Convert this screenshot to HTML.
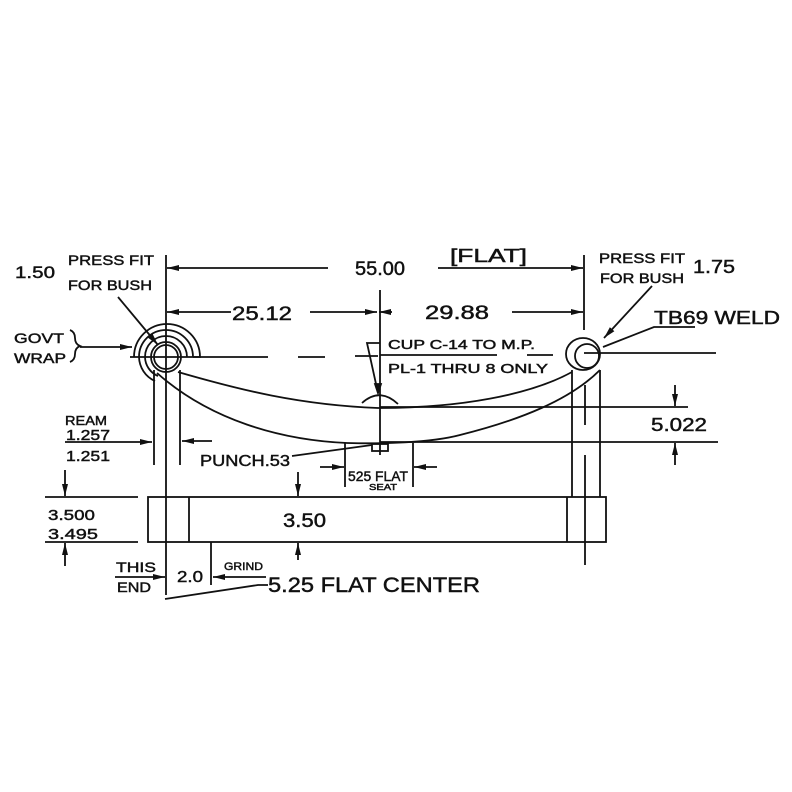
<!DOCTYPE html>
<html><head><meta charset="utf-8"><style>
html,body{margin:0;padding:0;background:#fff}
svg{display:block}
text{font-family:"Liberation Sans",sans-serif;fill:#111;stroke:#111;stroke-width:0.45}
</style></head><body>
<svg width="792" height="792" viewBox="0 0 792 792" xmlns="http://www.w3.org/2000/svg">
<defs>
<marker id="a" markerWidth="12" markerHeight="8" refX="12" refY="4" orient="auto" markerUnits="userSpaceOnUse"><path d="M0,1 L12,4 L0,7 Z" fill="#111"/></marker>
</defs>
<g stroke="#111" stroke-width="1.8" fill="none">
<circle cx="166" cy="357" r="12"/>
<circle cx="166" cy="357" r="15"/>
<path d="M145,357 A21,21 0 0 1 187,357"/>
<path d="M139,357 A27,27 0 0 1 193,357"/>
<path d="M134,357 A33,33 0 0 1 200,357 L193,357"/>
<path d="M145,357 A21,21 0 0 0 158,376"/>
<path d="M139,357 A27,27 0 0 0 155,381"/>
<line x1="166" y1="255" x2="166" y2="595"/>
<line x1="154" y1="370" x2="154" y2="465"/>
<line x1="180" y1="370" x2="180" y2="465"/>
<line x1="328" y1="268" x2="167" y2="268" marker-end="url(#a)"/>
<line x1="438" y1="268" x2="583" y2="268" marker-end="url(#a)"/>
<line x1="231" y1="312" x2="167" y2="312" marker-end="url(#a)"/>
<line x1="310" y1="312" x2="377" y2="312" marker-end="url(#a)"/>
<line x1="512" y1="312" x2="583" y2="312" marker-end="url(#a)"/>
<line x1="392" y1="312" x2="379" y2="312" marker-end="url(#a)"/>
<line x1="380" y1="290" x2="380" y2="455"/>
<line x1="130" y1="357" x2="268" y2="357"/>
<line x1="298" y1="357" x2="325" y2="357"/>
<line x1="355" y1="356" x2="378" y2="356"/>
<line x1="380" y1="355" x2="497" y2="355"/>
<line x1="527" y1="355" x2="553" y2="355"/>
<path d="M380,343 L367,343 L378,393" />
<path d="M378,393 l-3,-9 l6,0 z" fill="#111"/>
<path d="M362,403 Q380,387 398,404"/>
<ellipse cx="583" cy="354" rx="17" ry="16"/>
<circle cx="587" cy="356" r="12"/>
<line x1="584" y1="353" x2="716" y2="353"/>
<line x1="584" y1="255" x2="584" y2="330"/>
<line x1="572" y1="370" x2="572" y2="497"/>
<line x1="600" y1="370" x2="600" y2="497"/>
<line x1="585" y1="385" x2="585" y2="425"/>
<line x1="585" y1="455" x2="585" y2="565"/>
<path d="M178,372 C240,390 300,405 378,408 C460,408 530,395 572,372"/>
<path d="M157,373 C210,420 280,440 347,443 C380,444 430,443 460,435 C520,420 570,400 600,370"/>
<line x1="380" y1="407" x2="688" y2="407"/>
<line x1="380" y1="442" x2="718" y2="442"/>
<line x1="675" y1="385" x2="675" y2="406" marker-end="url(#a)"/>
<line x1="675" y1="465" x2="675" y2="443" marker-end="url(#a)"/>
<line x1="65" y1="442" x2="152" y2="442" marker-end="url(#a)"/>
<line x1="212" y1="441" x2="182" y2="441" marker-end="url(#a)"/>
<path d="M292,456 L372,445"/>
<rect x="372" y="444" width="16" height="7"/>
<line x1="345" y1="443" x2="345" y2="487"/>
<line x1="413" y1="443" x2="413" y2="487"/>
<line x1="320" y1="467" x2="344" y2="467" marker-end="url(#a)"/>
<line x1="437" y1="467" x2="414" y2="467" marker-end="url(#a)"/>
<rect x="148" y="497" width="458" height="45"/>
<line x1="189" y1="497" x2="189" y2="542"/>
<line x1="567" y1="497" x2="567" y2="542"/>
<line x1="45" y1="497" x2="138" y2="497"/>
<line x1="45" y1="542" x2="138" y2="542"/>
<line x1="65" y1="470" x2="65" y2="496" marker-end="url(#a)"/>
<line x1="65" y1="566" x2="65" y2="543" marker-end="url(#a)"/>
<line x1="298" y1="472" x2="298" y2="496" marker-end="url(#a)"/>
<line x1="298" y1="560" x2="298" y2="543" marker-end="url(#a)"/>
<line x1="211" y1="542" x2="211" y2="585"/>
<line x1="115" y1="577" x2="165" y2="577" marker-end="url(#a)"/>
<line x1="266" y1="577" x2="213" y2="577" marker-end="url(#a)"/>
<path d="M268,585 L258,585 L165,599"/>
<line x1="118" y1="297" x2="158" y2="345" marker-end="url(#a)"/>
<path d="M70,330 q5,2 5,8 q0,6 5,8 q-5,2 -5,8 q0,6 -5,8"/>
<line x1="80" y1="347" x2="132" y2="347" marker-end="url(#a)"/>
<line x1="652" y1="286" x2="604" y2="338" marker-end="url(#a)"/>
<path d="M695,327 L654,327 L603,347"/>
</g>
<g font-size="17">
<text x="15" y="278" textLength="40" lengthAdjust="spacingAndGlyphs">1.50</text>
<text x="68" y="265" font-size="14" textLength="86" lengthAdjust="spacingAndGlyphs">PRESS FIT</text>
<text x="68" y="290" font-size="14" textLength="84" lengthAdjust="spacingAndGlyphs">FOR BUSH</text>
<text x="14" y="343" font-size="14" textLength="50" lengthAdjust="spacingAndGlyphs">GOVT</text>
<text x="14" y="363" font-size="14" textLength="52" lengthAdjust="spacingAndGlyphs">WRAP</text>
<text x="355" y="275" font-size="19" textLength="50" lengthAdjust="spacingAndGlyphs">55.00</text>
<text x="450" y="262" font-size="18" textLength="77" lengthAdjust="spacingAndGlyphs">[FLAT]</text>
<text x="232" y="320" font-size="19" textLength="60" lengthAdjust="spacingAndGlyphs">25.12</text>
<text x="425" y="319" font-size="19" textLength="64" lengthAdjust="spacingAndGlyphs">29.88</text>
<text x="599" y="263" font-size="14" textLength="86" lengthAdjust="spacingAndGlyphs">PRESS FIT</text>
<text x="600" y="283" font-size="14" textLength="84" lengthAdjust="spacingAndGlyphs">FOR BUSH</text>
<text x="693" y="273" font-size="18" textLength="42" lengthAdjust="spacingAndGlyphs">1.75</text>
<text x="654" y="324" font-size="18" textLength="126" lengthAdjust="spacingAndGlyphs">TB69 WELD</text>
<text x="388" y="349" font-size="13" textLength="147" lengthAdjust="spacingAndGlyphs">CUP C-14 TO M.P.</text>
<text x="388" y="373" font-size="13" textLength="160" lengthAdjust="spacingAndGlyphs">PL-1 THRU 8 ONLY</text>
<text x="651" y="431" font-size="18" textLength="56" lengthAdjust="spacingAndGlyphs">5.022</text>
<text x="65" y="425" font-size="13" textLength="42" lengthAdjust="spacingAndGlyphs">REAM</text>
<text x="66" y="440" font-size="15" textLength="44" lengthAdjust="spacingAndGlyphs">1.257</text>
<text x="66" y="461" font-size="15" textLength="44" lengthAdjust="spacingAndGlyphs">1.251</text>
<text x="200" y="466" font-size="16" textLength="90" lengthAdjust="spacingAndGlyphs">PUNCH.53</text>
<text x="348" y="481" font-size="14" textLength="60" lengthAdjust="spacingAndGlyphs">525 FLAT</text>
<text x="369" y="490" font-size="8" textLength="28" lengthAdjust="spacingAndGlyphs">SEAT</text>
<text x="48" y="520" font-size="15" textLength="47" lengthAdjust="spacingAndGlyphs">3.500</text>
<text x="48" y="539" font-size="15" textLength="50" lengthAdjust="spacingAndGlyphs">3.495</text>
<text x="283" y="527" font-size="19" textLength="43" lengthAdjust="spacingAndGlyphs">3.50</text>
<text x="116" y="572" font-size="14" textLength="40" lengthAdjust="spacingAndGlyphs">THIS</text>
<text x="117" y="592" font-size="14" textLength="34" lengthAdjust="spacingAndGlyphs">END</text>
<text x="177" y="582" font-size="16" textLength="26" lengthAdjust="spacingAndGlyphs">2.0</text>
<text x="224" y="570" font-size="11" textLength="39" lengthAdjust="spacingAndGlyphs">GRIND</text>
<text x="268" y="592" font-size="21" textLength="212" lengthAdjust="spacingAndGlyphs">5.25 FLAT CENTER</text>
</g>
</svg>
</body></html>
